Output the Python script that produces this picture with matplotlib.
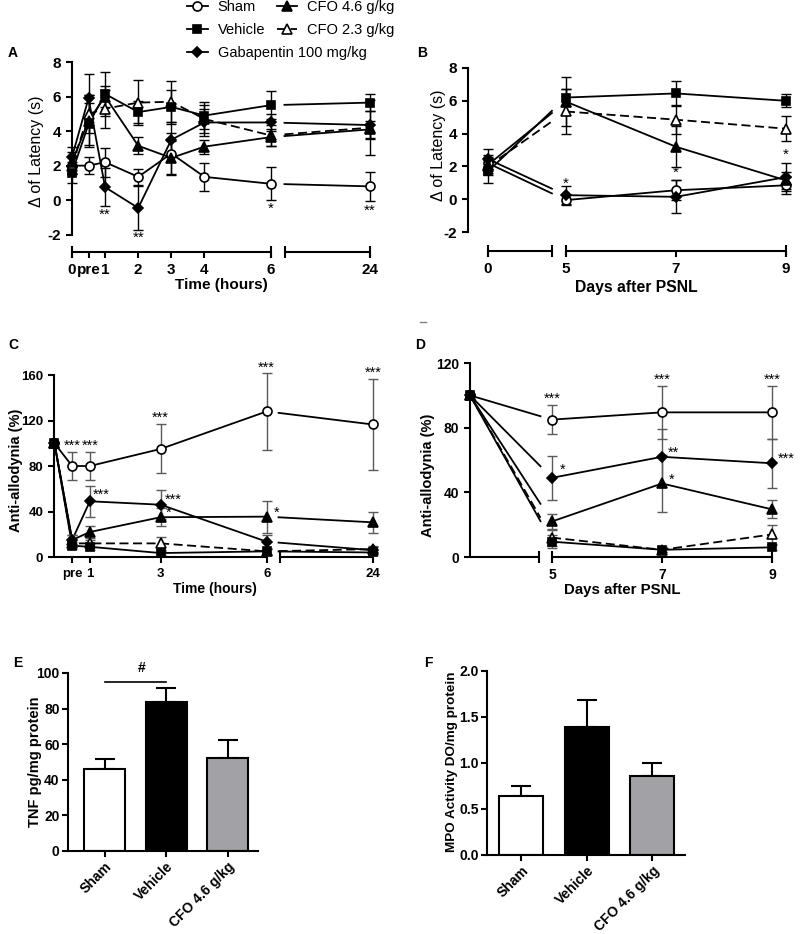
import numpy as np
import matplotlib
matplotlib.use('Agg')
import matplotlib.pyplot as plt
from matplotlib.lines import Line2D
from matplotlib import font_manager

plt.rcParams['font.family'] = 'Liberation Sans'
plt.rcParams['font.weight'] = 'bold'
plt.rcParams['axes.labelweight'] = 'bold'
plt.rcParams['axes.unicode_minus'] = False
plt.rcParams['axes.linewidth'] = 1.5

installed = {f.name for f in font_manager.fontManager.ttflist}
NARROW = 'Liberation Sans Narrow' if 'Liberation Sans Narrow' in installed else 'Liberation Sans'

# ---------------- data ----------------
groups = ['Sham', 'Vehicle', 'Gabapentin 100 mg/kg', 'CFO 4.6 g/kg', 'CFO 2.3 g/kg']

# A - delta latency, time in hours ("pre" = 0.5 h)
hours_A = [0, 0.5, 1, 2, 3, 4, 6, 24]
hour_labels_A = ['0', 'pre', '1', '2', '3', '4', '6', '24']
sham_A = [2.0, 2.0, 2.2, 1.35, 2.7, 1.35, 0.95, 0.8]
sham_A_err = [0.5, 0.5, 0.85, 0.45, 1.2, 0.8, 0.95, 0.85]
vehicle_A = [1.6, 4.4, 6.15, 5.1, 5.4, 4.9, 5.5, 5.65]
vehicle_A_err = [0.6, 1.2, 1.3, 0.65, 1.0, 0.8, 0.8, 0.5]
gaba_A = [2.5, 5.9, 0.75, -0.45, 3.5, 4.5, 4.5, 4.35]
gaba_A_err = [0.6, 1.4, 1.1, 1.3, 1.0, 0.8, 0.5, 0.8]
cfo46_A = [2.2, 4.6, 6.0, 3.15, 2.45, 3.1, 3.65, 4.1]
cfo46_A_err = [0.6, 1.5, 0.6, 0.5, 1.0, 0.4, 0.5, 0.5]
cfo23_A = [2.0, 5.0, 5.3, 5.65, 5.7, 4.7, 3.75, 4.2]
cfo23_A_err = [0.5, 1.1, 1.1, 1.3, 1.2, 0.8, 0.6, 1.6]
stars_A = [(1, -0.85, '**'), (2, -2.2, '**'), (6, -0.5, '*'), (24, -0.6, '**')]

# B - delta latency, days after PSNL
days_B = [0, 5, 7, 9]
sham_B = [2.2, -0.05, 0.55, 0.85]
sham_B_err = [0.5, 0.3, 0.6, 0.5]
vehicle_B = [1.7, 6.2, 6.45, 6.0]
vehicle_B_err = [0.7, 0.5, 0.75, 0.4]
gaba_B = [2.45, 0.25, 0.15, 1.35]
gaba_B_err = [0.6, 0.55, 1.0, 0.85]
cfo46_B = [2.1, 5.95, 3.2, 1.15]
cfo46_B_err = [0.5, 1.5, 1.25, 0.5]
cfo23_B = [2.0, 5.35, 4.85, 4.3]
cfo23_B_err = [0.5, 1.35, 0.9, 0.75]
stars_B = [(5, 0.95, '*'), (7, 1.6, '*'), (9, 2.7, '*')]

# C - anti-allodynia, hours
hours_C = [0, 0.5, 1, 3, 6, 24]
hour_ticks_C = [0.5, 1, 3, 6, 24]
hour_labels_C = ['pre', '1', '3', '6', '24']
sham_C = [100, 80, 80, 95, 128, 116.5]
sham_C_err = [0, 12.5, 12.5, 21.5, 34, 40]
vehicle_C = [100, 10, 9, 3.5, 5, 4]
vehicle_C_err = [0, 3, 2.5, 2, 2, 2]
gaba_C = [100, 15, 49, 46, 13.5, 6]
gaba_C_err = [0, 4, 13.5, 13, 6, 3]
cfo46_C = [100, 15, 22, 35, 35.5, 30.5]
cfo46_C_err = [0, 4, 5, 8, 14, 9]
cfo23_C = [100, 12, 12, 12, 5, 7]
cfo23_C_err = [0, 3, 3, 6, 3, 3]
# (x, y, text, offset to the right in points; None = centred)
stars_C = [(0.5, 98, '***', None), (1, 98, '***', None), (3, 122, '***', None),
           (6, 166, '***', None), (24, 162, '***', None),
           (1, 55, '***', 2), (3, 50, '***', 3), (3, 38.5, '*', 4), (6, 38.5, '*', 5)]

# D - anti-allodynia, days
days_D = [0, 5, 7, 9]
sham_D = [100, 85, 89.5, 89.5]
sham_D_err = [0, 9, 16.5, 16.5]
vehicle_D = [100, 9.5, 4.5, 6]
vehicle_D_err = [0, 4, 1.5, 1.5]
gaba_D = [100, 49, 62, 58]
gaba_D_err = [0, 13.5, 17.5, 15]
cfo46_D = [100, 22, 45.5, 29.5]
cfo46_D_err = [0, 4.5, 17.5, 5.5]
cfo23_D = [100, 12, 4.5, 14]
cfo23_D_err = [0, 5, 1.5, 6]
stars_D = [(5, 98, '***', None), (7, 109.5, '***', None), (9, 109.5, '***', None),
           (5, 54, '*', 6), (7, 64.5, '**', 4), (7, 48, '*', 5), (9, 60.5, '***', 4)]

# E / F - bars
bar_groups = ['Sham', 'Vehicle', 'CFO 4.6 g/kg']
tnf = [46, 83.5, 52.5]
tnf_err = [5.5, 8, 10]
mpo = [0.645, 1.395, 0.862]
mpo_err = [0.105, 0.295, 0.135]

# ---------------- styles ----------------
STYLE = {
    'Sham': dict(marker='o', mfc='white', ls='-', ms=6.5),
    'Vehicle': dict(marker='s', mfc='black', ls='-', ms=6),
    'Gabapentin 100 mg/kg': dict(marker='D', mfc='black', ls='-', ms=5.5),
    'CFO 4.6 g/kg': dict(marker='^', mfc='black', ls='-', ms=7),
    'CFO 2.3 g/kg': dict(marker='^', mfc='white', ls=(0, (5, 2.5)), ms=7),
}
BAR_COLORS = ['white', 'black', '#a2a2a6']


def piecewise(xk, yk):
    xk = np.asarray(xk, float)
    yk = np.asarray(yk, float)
    s_lo = (yk[1] - yk[0]) / (xk[1] - xk[0])
    s_hi = (yk[-1] - yk[-2]) / (xk[-1] - xk[-2])

    def f(v):
        v = np.asarray(v, float)
        out = np.interp(v, xk, yk)
        out = np.where(v < xk[0], yk[0] + (v - xk[0]) * s_lo, out)
        out = np.where(v > xk[-1], yk[-1] + (v - xk[-1]) * s_hi, out)
        return out
    return f


def set_broken_scale(ax, xk, yk):
    fwd = piecewise(xk, yk)
    ax.set_xscale('function', functions=(fwd, piecewise(yk, xk)))
    return fwd


def plot_series(ax, x, y, err, name, fwd, gap, ecolor='black'):
    st = STYLE[name]
    x = np.asarray(x, float)
    y = np.asarray(y, float)
    xs = fwd(x)
    lo, hi = gap
    ylo = np.interp(fwd(lo), xs, y)
    yhi = np.interp(fwd(hi), xs, y)
    left = x <= lo
    right = x >= hi
    kw = dict(color='black', lw=1.3, ls=st['ls'], zorder=2, clip_on=False)
    ax.plot(np.r_[x[left], lo], np.r_[y[left], ylo], **kw)
    ax.plot(np.r_[hi, x[right]], np.r_[yhi, y[right]], **kw)
    eb = ax.errorbar(x, y, yerr=err, fmt='none', ecolor=ecolor, elinewidth=1,
                     capsize=3.5, capthick=1, zorder=2.5)
    for art in eb.get_children():
        art.set_clip_on(False)
    ax.plot(x, y, ls='none', marker=st['marker'], mfc=st['mfc'], mec='black',
            mew=1.2, ms=st['ms'], zorder=3, clip_on=False)


def broken_xaxis(ax, segments, caps):
    ax.spines['bottom'].set_visible(False)
    tr = ax.get_xaxis_transform()
    for a, b in segments:
        ax.plot([a, b], [0, 0], color='black', lw=1.5, transform=tr,
                clip_on=False, solid_capstyle='butt')
    for c in caps:
        ax.plot([c], [0], marker='|', ms=8, mew=1.5, color='black',
                transform=tr, clip_on=False)


def add_stars(ax, stars, size):
    for item in stars:
        x, y, s = item[0], item[1], item[2]
        dx = item[3] if len(item) > 3 else None
        if dx is None:
            ax.annotate(s, (x, y), ha='center', va='center', fontsize=size,
                        fontweight='normal', annotation_clip=False)
        else:
            ax.annotate(s, (x, y), xytext=(dx, 0), textcoords='offset points',
                        ha='left', va='center', fontsize=size,
                        fontweight='normal', annotation_clip=False)


def style_axes(ax, labelsize, pad=3.5):
    ax.spines['top'].set_visible(False)
    ax.spines['right'].set_visible(False)
    ax.tick_params(direction='out', length=4.5, width=1.5, labelsize=labelsize, pad=pad)


fig = plt.figure(figsize=(8, 9.34), dpi=100)

# ---------------- A ----------------
axA = fig.add_axes([0.09, 0.7302, 0.3725, 0.2034])
fwdA = set_broken_scale(axA, [0, 6, 24], [0, 6, 9])
series_A = [(sham_A, sham_A_err, 'Sham'), (cfo23_A, cfo23_A_err, 'CFO 2.3 g/kg'),
            (cfo46_A, cfo46_A_err, 'CFO 4.6 g/kg'), (vehicle_A, vehicle_A_err, 'Vehicle'),
            (gaba_A, gaba_A_err, 'Gabapentin 100 mg/kg')]
for y, e, n in series_A:
    plot_series(axA, hours_A, y, e, n, fwdA, (6, 8.5))
style_axes(axA, 11)
broken_xaxis(axA, [(0, 6), (8.6, 24)], [0, 6, 8.6, 24])
axA.spines['left'].set_bounds(-2, 8)
axA.set_xticks(hours_A)
axA.set_xticklabels(hour_labels_A)
axA.set_yticks([-2, 0, 2, 4, 6, 8])
axA.set_xlim(0, 24)
axA.set_ylim(-3, 8)
axA.set_xlabel('Time (hours)', fontsize=11, va='top')
axA.xaxis.set_label_coords(0.5, -0.135)
axA.set_ylabel('\u0394 of Latency (s)', fontsize=11.5, fontweight='normal')
axA.yaxis.set_label_coords(-0.094, 0.53)
add_stars(axA, stars_A, 11)

# ---------------- B ----------------
axB = fig.add_axes([0.585, 0.7313, 0.3975, 0.1959])
fwdB = set_broken_scale(axB, [0, 5, 9], [0, 1.418, 5.418])
series_B = [(sham_B, sham_B_err, 'Sham'), (cfo23_B, cfo23_B_err, 'CFO 2.3 g/kg'),
            (cfo46_B, cfo46_B_err, 'CFO 4.6 g/kg'), (vehicle_B, vehicle_B_err, 'Vehicle'),
            (gaba_B, gaba_B_err, 'Gabapentin 100 mg/kg')]
for y, e, n in series_B:
    plot_series(axB, days_B, y, e, n, fwdB, (4.1, 5))
style_axes(axB, 11)
broken_xaxis(axB, [(0, 4.1), (5, 9)], [0, 4.1, 5, 9])
axB.spines['left'].set_bounds(-2, 8)
axB.set_xticks(days_B)
axB.set_yticks([-2, 0, 2, 4, 6, 8])
axB.set_xlim(-1.28, 9)
axB.set_ylim(-3.15, 8)
axB.set_xlabel('Days after PSNL', fontsize=11.3, va='top')
axB.xaxis.set_label_coords(0.53, -0.158)
axB.set_ylabel('\u0394 of Latency (s)', fontsize=11.5, fontweight='normal')
axB.yaxis.set_label_coords(-0.069, 0.58)
add_stars(axB, stars_B, 11)

# ---------------- C ----------------
axC = fig.add_axes([0.0681, 0.4036, 0.398, 0.1949])
fwdC = set_broken_scale(axC, [0, 6, 24], [0, 6, 9])
series_C = [(sham_C, sham_C_err, 'Sham'), (cfo23_C, cfo23_C_err, 'CFO 2.3 g/kg'),
            (vehicle_C, vehicle_C_err, 'Vehicle'), (cfo46_C, cfo46_C_err, 'CFO 4.6 g/kg'),
            (gaba_C, gaba_C_err, 'Gabapentin 100 mg/kg')]
for y, e, n in series_C:
    plot_series(axC, hours_C, y, e, n, fwdC, (6, 8.0), ecolor='#5a5a5a')
style_axes(axC, 9.5)
broken_xaxis(axC, [(0, 6), (8.3, 24)], [8.3])
axC.set_xticks(hour_ticks_C)
axC.set_xticklabels(hour_labels_C)
axC.set_yticks([0, 40, 80, 120, 160])
axC.set_xlim(0, 24)
axC.set_ylim(0, 160)
axC.set_xlabel('Time (hours)', fontsize=10, va='top')
axC.xaxis.set_label_coords(0.504, -0.137)
axC.set_ylabel('Anti-allodynia (%)', fontsize=10.5, family=NARROW)
axC.yaxis.set_label_coords(-0.099, 0.478)
add_stars(axC, stars_C, 10.5)

# ---------------- D ----------------
axD = fig.add_axes([0.5875, 0.4036, 0.3775, 0.2077])
fwdD = set_broken_scale(axD, [0, 5, 9], [0, 1.49, 5.49])
series_D = [(sham_D, sham_D_err, 'Sham'), (cfo23_D, cfo23_D_err, 'CFO 2.3 g/kg'),
            (vehicle_D, vehicle_D_err, 'Vehicle'), (cfo46_D, cfo46_D_err, 'CFO 4.6 g/kg'),
            (gaba_D, gaba_D_err, 'Gabapentin 100 mg/kg')]
for y, e, n in series_D:
    plot_series(axD, days_D, y, e, n, fwdD, (4.3, 5), ecolor='#5a5a5a')
style_axes(axD, 10)
broken_xaxis(axD, [(0, 4.2), (5, 9)], [4.2, 5, 9])
axD.set_xticks([5, 7, 9])
axD.set_yticks([0, 40, 80, 120])
axD.set_xlim(0, 9)
axD.set_ylim(0, 120)
axD.set_xlabel('Days after PSNL', fontsize=10.8, va='top')
axD.xaxis.set_label_coords(0.503, -0.134)
axD.set_ylabel('Anti-allodynia (%)', fontsize=10.5, family=NARROW)
axD.yaxis.set_label_coords(-0.116, 0.42)
add_stars(axD, stars_D, 10.5)

# ---------------- E ----------------
axE = fig.add_axes([0.085, 0.0889, 0.2375, 0.1906])
xE = np.arange(len(bar_groups))
axE.bar(xE, tnf, width=0.67, color=BAR_COLORS, edgecolor='black', lw=1.5, zorder=2)
axE.errorbar(xE, tnf, yerr=[np.zeros(3), tnf_err], fmt='none', ecolor='black',
             elinewidth=1.5, capsize=7.5, capthick=1.5, zorder=1)
style_axes(axE, 10, pad=1.5)
axE.set_xticks(xE)
axE.set_xticklabels(bar_groups, rotation=45, ha='right', rotation_mode='anchor')
axE.set_yticks([0, 20, 40, 60, 80, 100])
axE.set_xlim(-0.6, 2.49)
axE.set_ylim(0, 100)
axE.set_ylabel('TNF pg/mg protein', fontsize=10.5)
axE.yaxis.set_label_coords(-0.137, 0.5)
axE.plot([0, 1], [95, 95], color='black', lw=1.2, clip_on=False)
axE.text(0.6, 99, '#', ha='center', va='bottom', fontsize=10, clip_on=False)

# ---------------- F ----------------
axF = fig.add_axes([0.6088, 0.0846, 0.2475, 0.197])
xF = np.arange(len(bar_groups))
axF.bar(xF, mpo, width=0.67, color=BAR_COLORS, edgecolor='black', lw=1.5, zorder=2)
axF.errorbar(xF, mpo, yerr=[np.zeros(3), mpo_err], fmt='none', ecolor='black',
             elinewidth=1.5, capsize=7.5, capthick=1.5, zorder=1)
style_axes(axF, 10, pad=1.5)
axF.set_xticks(xF)
axF.set_xticklabels(bar_groups, rotation=45, ha='right', rotation_mode='anchor')
axF.set_yticks([0, 0.5, 1.0, 1.5, 2.0])
axF.set_yticklabels(['0.0', '0.5', '1.0', '1.5', '2.0'])
axF.set_xlim(-0.52, 2.5)
axF.set_ylim(0, 2)
axF.set_ylabel('MPO Activity DO/mg protein', fontsize=9.7)
axF.yaxis.set_label_coords(-0.148, 0.505)

# ---------------- legend ----------------
def handle(name):
    st = STYLE[name]
    return Line2D([], [], color='black', lw=1.3, ls=st['ls'], marker=st['marker'],
                  mfc=st['mfc'], mec='black', mew=1.2, ms=st['ms'])

leg_prop = {'family': 'Liberation Sans', 'size': 10.5, 'weight': 'normal'}
leg_kw = dict(loc='upper left', frameon=False, prop=leg_prop, handlelength=1.4,
              handletextpad=0.7, labelspacing=0.62, borderpad=0, borderaxespad=0)
fig.legend(handles=[handle(n) for n in groups[:3]], labels=groups[:3],
           bbox_to_anchor=(0.234, 1.0), **leg_kw)
fig.legend(handles=[handle(n) for n in groups[3:]], labels=groups[3:],
           bbox_to_anchor=(0.346, 1.0), **leg_kw)

# panel letters
for letter, (px, py) in zip('ABCDEF', [(8, 53), (417, 53), (8, 345), (415, 345), (13, 663), (424, 663)]):
    fig.text(px / 800, 1 - py / 934, letter, fontsize=10, fontweight='bold', va='center')

fig.add_artist(Line2D([420 / 800, 426 / 800], [1 - 322 / 934] * 2, color='gray', lw=1))

fig.savefig('out.png', dpi=100)
